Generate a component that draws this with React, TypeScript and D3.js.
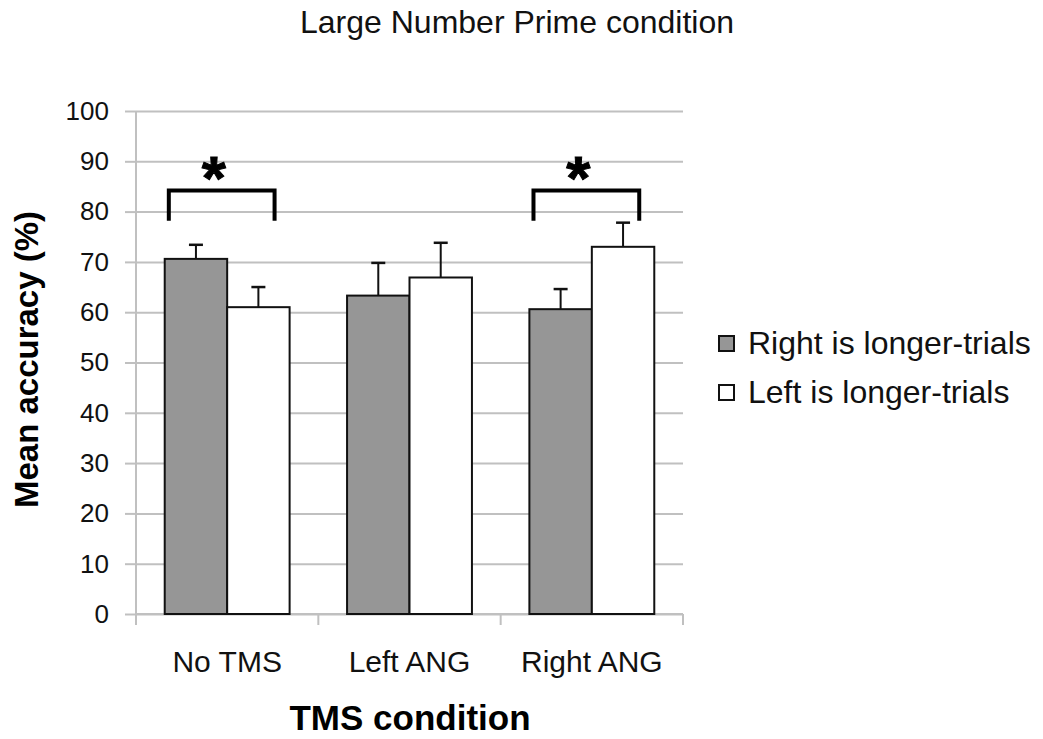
import React, { useEffect, useRef } from 'react';
import * as d3 from 'd3';

const categories = ['No TMS', 'Left ANG', 'Right ANG'];
const seriesNames = ['Right is longer-trials', 'Left is longer-trials'];
const rightLonger = [70.6, 63.3, 60.6];
const rightLongerErr = [2.8, 6.5, 4.0];
const leftLonger = [61.0, 66.9, 73.0];
const leftLongerErr = [4.0, 6.9, 4.8];
const yTicks = [0, 10, 20, 30, 40, 50, 60, 70, 80, 90, 100];
// significance brackets: category, bracket top, leg bottom
const brackets = [
  { cat: 'No TMS', top: 84.2, leg: 78.2 },
  { cat: 'Right ANG', top: 84.2, leg: 78.2 },
];

const W = 1043;
const H = 739;
const FONT = '"Liberation Sans", Arial, sans-serif';

export default function App() {
  const svgRef = useRef<SVGSVGElement>(null);

  useEffect(() => {
    const svg = d3.select(svgRef.current);
    svg.selectAll('*').remove();

    const left = 136;
    const right = 683;
    const top = 111;
    const bottom = 614;

    const x = d3.scaleBand<string>().domain(categories).range([left, right]).paddingInner(0).paddingOuter(0);
    const inner = d3
      .scaleBand<number>()
      .domain([0, 1])
      .range([0, x.bandwidth()])
      .paddingInner(0)
      .paddingOuter(0.46);
    const y = d3.scaleLinear().domain([0, 100]).range([bottom, top]);

    // Сетка
    const grid = svg.append('g').attr('transform', `translate(${left},0)`);
    grid
      .call(d3.axisLeft(y).tickValues(yTicks).tickSize(-(right - left)).tickFormat(() => ''))
      .call(g => g.select('.domain').remove())
      .call(g => g.selectAll('.tick line').attr('stroke', '#c0c0c0').attr('stroke-width', 2));
    // small tick marks left of axis
    svg
      .append('g')
      .attr('transform', `translate(${left},0)`)
      .call(d3.axisLeft(y).tickValues(yTicks).tickSize(11).tickPadding(16))
      .call(g => g.select('.domain').remove())
      .call(g => g.selectAll('.tick line').attr('stroke', '#c0c0c0').attr('stroke-width', 2))
      .call(g =>
        g
          .selectAll('.tick text')
          .attr('font-family', FONT)
          .attr('font-size', 26)
          .attr('fill', '#111')
      );

    // y axis line
    svg
      .append('line')
      .attr('x1', left)
      .attr('x2', left)
      .attr('y1', top)
      .attr('y2', bottom + 11)
      .attr('stroke', '#c0c0c0')
      .attr('stroke-width', 2);

    // x axis
    const xAxisG = svg
      .append('g')
      .attr('transform', `translate(0,${bottom})`)
      .call(d3.axisBottom(x).tickSize(0).tickPadding(37))
      .call(g => g.select('.domain').attr('stroke', '#c0c0c0').attr('stroke-width', 2).attr('d', `M${left},0H${right}`))
      .call(g =>
        g
          .selectAll('.tick text')
          .attr('font-family', FONT)
          .attr('font-size', 30)
          .attr('fill', '#111')
      );
    const bounds = categories.map(c => x(c)! + x.bandwidth()).concat([left]);
    xAxisG
      .selectAll('.cat-tick')
      .data(bounds)
      .enter()
      .append('line')
      .attr('x1', d => d)
      .attr('x2', d => d)
      .attr('y1', 0)
      .attr('y2', 11)
      .attr('stroke', '#c0c0c0')
      .attr('stroke-width', 2);

    const series = [
      { vals: rightLonger, errs: rightLongerErr, fill: '#969696' },
      { vals: leftLonger, errs: leftLongerErr, fill: '#ffffff' },
    ];

    series.forEach((s, si) => {
      const g = svg.append('g');
      const bx = (i: number) => x(categories[i])! + inner(si)!;
      // error bars
      g.selectAll('.err')
        .data(s.vals)
        .enter()
        .append('line')
        .attr('x1', (d, i) => bx(i) + inner.bandwidth() / 2)
        .attr('x2', (d, i) => bx(i) + inner.bandwidth() / 2)
        .attr('y1', d => y(d))
        .attr('y2', (d, i) => y(d + s.errs[i]))
        .attr('stroke', '#111')
        .attr('stroke-width', 2);
      g.selectAll('.cap')
        .data(s.vals)
        .enter()
        .append('line')
        .attr('x1', (d, i) => bx(i) + inner.bandwidth() / 2 - 7)
        .attr('x2', (d, i) => bx(i) + inner.bandwidth() / 2 + 7)
        .attr('y1', (d, i) => y(d + s.errs[i]))
        .attr('y2', (d, i) => y(d + s.errs[i]))
        .attr('stroke', '#111')
        .attr('stroke-width', 2.5);
      g.selectAll('rect')
        .data(s.vals)
        .enter()
        .append('rect')
        .attr('x', (d, i) => bx(i))
        .attr('y', d => y(d))
        .attr('width', inner.bandwidth())
        .attr('height', d => y(0) - y(d))
        .attr('fill', s.fill)
        .attr('stroke', '#111')
        .attr('stroke-width', 2);
    });

    // significance brackets
    brackets.forEach(b => {
      const x0 = x(b.cat)! + x.bandwidth() * 0.18;
      const x1 = x(b.cat)! + x.bandwidth() * 0.76;
      svg
        .append('path')
        .attr('d', `M${x0},${y(b.leg)}V${y(b.top)}H${x1}V${y(b.leg)}`)
        .attr('fill', 'none')
        .attr('stroke', '#000')
        .attr('stroke-width', 4);
      svg
        .append('text')
        .attr('x', (x0 + x1) / 2 - 8)
        .attr('y', y(b.top) + 9)
        .attr('text-anchor', 'middle')
        .attr('font-family', FONT)
        .attr('font-weight', 'bold')
        .attr('font-size', 62)
        .attr('stroke', '#000')
        .attr('stroke-width', 1)
        .text('*');
    });

    // legend
    const legend = svg.append('g').attr('transform', 'translate(718,335)');
    seriesNames.forEach((name, i) => {
      const row = legend.append('g').attr('transform', `translate(0,${i * 49})`);
      row
        .append('rect')
        .attr('x', 1)
        .attr('y', 1)
        .attr('width', 15)
        .attr('height', 15)
        .attr('fill', series[i].fill)
        .attr('stroke', '#111')
        .attr('stroke-width', 2);
      row
        .append('text')
        .attr('x', 30)
        .attr('y', 19)
        .attr('font-family', FONT)
        .attr('font-size', 32)
        .attr('fill', '#111')
        .text(name);
    });

    // titles
    svg
      .append('text')
      .attr('x', 517)
      .attr('y', 33)
      .attr('text-anchor', 'middle')
      .attr('font-family', FONT)
      .attr('font-size', 32)
      .attr('fill', '#111')
      .text('Large Number Prime condition');

    svg
      .append('text')
      .attr('transform', `translate(38,${(top + bottom) / 2 - 3}) rotate(-90)`)
      .attr('text-anchor', 'middle')
      .attr('font-family', FONT)
      .attr('font-weight', 'bold')
      .attr('font-size', 33)
      .attr('fill', '#000')
      .text('Mean accuracy (%)');

    svg
      .append('text')
      .attr('x', 410)
      .attr('y', 730)
      .attr('text-anchor', 'middle')
      .attr('font-family', FONT)
      .attr('font-weight', 'bold')
      .attr('font-size', 35)
      .attr('fill', '#000')
      .text('TMS condition');
  }, []);

  return (
    <div style={{ position: 'absolute', left: 0, top: 0, width: W, height: H, background: '#fff' }}>
      <svg ref={svgRef} width={W} height={H} style={{ display: 'block' }}></svg>
    </div>
  );
}
